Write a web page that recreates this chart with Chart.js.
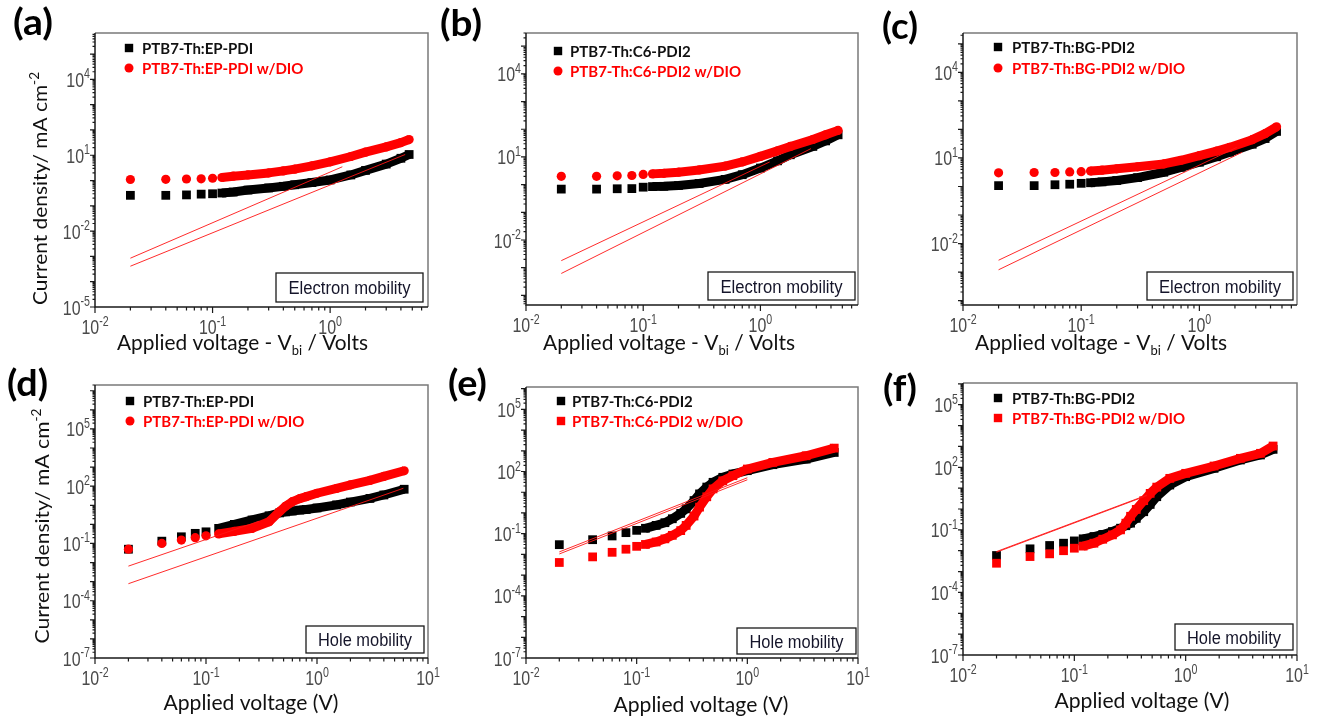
<!DOCTYPE html>
<html>
<head>
<meta charset="utf-8">
<title>SCLC J-V curves</title>
<script src="https://cdn.jsdelivr.net/npm/chart.js@4.4.1/dist/chart.umd.min.js"></script>
<style>
  html, body { margin: 0; padding: 0; background: #fff; }
  #figure { position: relative; width: 1323px; height: 722px; overflow: hidden; background: #fff; }
  #figure canvas { position: absolute; }
</style>
</head>
<body>
<div id="figure">
  <canvas id="panelA"></canvas>
  <canvas id="panelB"></canvas>
  <canvas id="panelC"></canvas>
  <canvas id="panelD"></canvas>
  <canvas id="panelE"></canvas>
  <canvas id="panelF"></canvas>
</div>
<script>
// ---- electron-only devices (V - Vbi in volts, J in mA cm^-2) ----
const voltA = [0.02, 0.04, 0.06, 0.08, 0.10, 0.12, 0.15, 0.2, 0.3, 0.4, 0.5, 0.7, 1.0, 1.5, 2.0, 3.0, 4.0, 4.7];
const jEpPdiE = [0.26, 0.26, 0.27, 0.29, 0.30, 0.32, 0.35, 0.42, 0.51, 0.59, 0.68, 0.83, 1.05, 1.66, 2.51, 4.47, 7.59, 10.7];
const jEpPdiDioE = [1.10, 1.12, 1.15, 1.17, 1.23, 1.32, 1.48, 1.66, 2.0, 2.4, 2.82, 3.8, 5.5, 8.9, 13.2, 21.4, 31.6, 41.7];
const fitVoltA = [[0.02, 1.27], [0.02, 4.35]];
const fitJA = [[8.5e-4, 3.5], [4.1e-4, 10.7]];

const voltB = [0.02, 0.04, 0.06, 0.08, 0.10, 0.12, 0.15, 0.2, 0.3, 0.5, 0.7, 1.0, 1.4, 1.8, 2.8, 3.6, 4.6];
const jC6E = [0.69, 0.69, 0.71, 0.72, 0.81, 0.85, 0.87, 0.93, 1.10, 1.55, 2.29, 3.98, 7.24, 12.0, 24.0, 38.0, 63.1];
const jC6DioE = [2.0, 2.0, 2.09, 2.14, 2.34, 2.45, 2.57, 2.82, 3.39, 4.68, 6.6, 10.5, 16.6, 24.0, 42.7, 63.1, 91.2];
const fitVoltB = [[0.02, 1.2], [0.02, 2.7]];
const fitJB = [[1.8e-3, 6.6], [6.2e-4, 20]];

const voltC = [0.02, 0.04, 0.06, 0.08, 0.10, 0.12, 0.15, 0.2, 0.3, 0.5, 0.7, 1.0, 1.4, 1.8, 2.8, 3.6, 4.5];
const jBgE = [1.07, 1.07, 1.15, 1.20, 1.29, 1.35, 1.45, 1.62, 2.04, 3.16, 4.68, 7.08, 11.0, 15.8, 30.2, 47.9, 85.1];
const jBgDioE = [3.02, 3.09, 3.09, 3.24, 3.31, 3.47, 3.72, 4.17, 4.9, 6.17, 8.3, 12.0, 17.4, 23.4, 43.7, 70.8, 123];
const fitVoltC = [[0.02, 2.07], [0.02, 2.3]];
const fitJC = [[2.6e-3, 23.4], [1.2e-3, 15.8]];

// ---- hole-only devices (V in volts) ----
const voltD = [0.02, 0.04, 0.06, 0.08, 0.10, 0.13, 0.18, 0.26, 0.37, 0.46, 0.52, 0.6, 0.7, 0.8, 1.0, 1.5, 2.0, 3.0, 4.0, 6.1];
const jEpPdiH = [0.050, 0.132, 0.224, 0.339, 0.407, 0.617, 1.0, 1.70, 2.82, 3.98, 4.5, 5.01, 5.6, 6.03, 7.24, 10.5, 14.8, 22.9, 34.7, 69.2];
const jEpPdiDioH = [0.050, 0.10, 0.151, 0.20, 0.251, 0.316, 0.427, 0.617, 1.38, 4.68, 8.9, 15.5, 22.4, 28.2, 42.7, 75.9, 117, 200, 324, 646];
const fitVoltD = [[0.02, 0.3], [0.02, 6.0]];
const fitJD = [[6.5e-3, 1.46], [7.8e-4, 77.6]];

const voltE = [0.02, 0.04, 0.06, 0.08, 0.10, 0.12, 0.15, 0.18, 0.21, 0.25, 0.28, 0.33, 0.37, 0.43, 0.49, 0.6, 0.74, 1.0, 1.7, 3.4, 6.1];
const jC6H = [0.0295, 0.0513, 0.0776, 0.112, 0.145, 0.182, 0.251, 0.339, 0.525, 0.955, 1.58, 3.98, 8.32, 17.8, 30.2, 52.5, 75.9, 110, 214, 398, 832];
const jC6DioH = [0.00407, 0.00759, 0.0126, 0.0178, 0.0245, 0.0302, 0.0398, 0.0562, 0.0832, 0.141, 0.251, 0.708, 1.91, 6.03, 14.5, 35.5, 63.1, 132, 275, 575, 1349];
const fitVoltE = [[0.02, 1.0], [0.02, 1.0]];
const fitJE = [[0.0132, 50], [0.0105, 40]];

const voltF = [0.02, 0.04, 0.06, 0.08, 0.10, 0.12, 0.15, 0.18, 0.22, 0.26, 0.29, 0.32, 0.36, 0.42, 0.48, 0.55, 0.72, 1.0, 1.8, 3.1, 4.7, 6.1];
const jBgH = [0.00589, 0.0123, 0.0178, 0.0229, 0.0295, 0.0372, 0.0479, 0.0603, 0.0832, 0.120, 0.158, 0.209, 0.355, 0.741, 1.66, 3.89, 14.1, 35.5, 89.1, 224, 389, 724];
const jBgDioH = [0.00251, 0.00525, 0.00708, 0.01, 0.0132, 0.0166, 0.0229, 0.0355, 0.0575, 0.1, 0.209, 0.447, 0.955, 2.51, 5.62, 11.2, 29.5, 51.3, 115, 269, 468, 1047];
const fitVoltF = [[0.02, 0.45], [0.02, 0.45]];
const fitJF = [[0.0091, 4.68], [0.0085, 4.4]];

// legend names
const namesEp = ['PTB7-Th:EP-PDI', 'PTB7-Th:EP-PDI w/DIO'];
const namesC6 = ['PTB7-Th:C6-PDI2', 'PTB7-Th:C6-PDI2 w/DIO'];
const namesBg = ['PTB7-Th:BG-PDI2', 'PTB7-Th:BG-PDI2 w/DIO'];

const LATO = 'Lato, "Open Sans", sans-serif';
const ARIAL = '"Liberation Sans", Arial, sans-serif';
const RED = '#ff0000';
const BLACK = '#000000';
const DISCRETE = 5; // first points are drawn as separate markers

// layout of each panel (page coordinates)
const panels = [
  { id: 'panelA', left: 0, top: 0, w: 445, h: 360, area: [95, 33, 428, 307],
    xMax: 6.8, yMin: 1e-5, yMax: 6.8e5, xLabels: [-2, -1, 0], yLabels: [-5, -2, 1, 4],
    volt: voltA, ref: jEpPdiE, dio: jEpPdiDioE, fitV: fitVoltA, fitJ: fitJA, names: namesEp, dioStyle: 'circle',
    tag: '(a)', tagPos: [13, 34, 40], legend: [129, 142, 48, 68],
    box: 'Electron mobility', boxRect: [276, 273, 423, 302], boxTextW: 122,
    xTitle: 'bias', xTitlePos: [242.5, 350, 251], yTitlePos: [47, 188.5, 233] },
  { id: 'panelB', left: 436, top: 0, w: 449, h: 360, area: [526, 33, 858, 305],
    xMax: 6.8, yMin: 4.5e-5, yMax: 3.0e5, xLabels: [-2, -1, 0], yLabels: [-2, 1, 4],
    volt: voltB, ref: jC6E, dio: jC6DioE, fitV: fitVoltB, fitJ: fitJB, names: namesC6, dioStyle: 'circle',
    tag: '(b)', tagPos: [440, 35, 42], legend: [558, 570, 51, 71],
    box: 'Electron mobility', boxRect: [708, 272, 855, 300], boxTextW: 122,
    xTitle: 'bias', xTitlePos: [669, 350, 252] },
  { id: 'panelC', left: 876, top: 0, w: 447, h: 360, area: [963, 33, 1297, 305],
    xMax: 6.7, yMin: 7.4e-5, yMax: 2.4e5, xLabels: [-2, -1, 0], yLabels: [-2, 1, 4],
    volt: voltC, ref: jBgE, dio: jBgDioE, fitV: fitVoltC, fitJ: fitJC, names: namesBg, dioStyle: 'circle',
    tag: '(c)', tagPos: [882, 38, 36], legend: [998, 1012, 47, 68],
    box: 'Electron mobility', boxRect: [1147, 272, 1293, 300], boxTextW: 122,
    xTitle: 'bias', xTitlePos: [1101, 350, 252] },
  { id: 'panelD', left: 0, top: 360, w: 445, h: 362, area: [95, 385, 428, 658],
    xMax: 10, yMin: 1e-7, yMax: 2e7, xLabels: [-2, -1, 0, 1], yLabels: [-7, -4, -1, 2, 5],
    volt: voltD, ref: jEpPdiH, dio: jEpPdiDioH, fitV: fitVoltD, fitJ: fitJD, names: namesEp, dioStyle: 'circle',
    tag: '(d)', tagPos: [7, 395, 41], legend: [130, 143, 401, 421],
    box: 'Hole mobility', boxRect: [306, 626, 424, 653], boxTextW: 94,
    xTitle: 'plain', xTitlePos: [251, 710, 175], yTitlePos: [49, 526, 235] },
  { id: 'panelE', left: 436, top: 360, w: 449, h: 362, area: [526, 387, 858, 658],
    xMax: 10, yMin: 1e-7, yMax: 1.2e6, xLabels: [-2, -1, 0, 1], yLabels: [-7, -4, -1, 2, 5],
    volt: voltE, ref: jC6H, dio: jC6DioH, fitV: fitVoltE, fitJ: fitJE, names: namesC6, dioStyle: 'rect',
    tag: '(e)', tagPos: [448, 395, 39], legend: [561, 572, 401, 421],
    box: 'Hole mobility', boxRect: [737, 628, 856, 654], boxTextW: 94,
    xTitle: 'plain', xTitlePos: [701, 712, 175] },
  { id: 'panelF', left: 876, top: 360, w: 447, h: 362, area: [963, 383, 1297, 655],
    xMax: 10, yMin: 1e-7, yMax: 1.1e6, xLabels: [-2, -1, 0, 1], yLabels: [-7, -4, -1, 2, 5],
    volt: voltF, ref: jBgH, dio: jBgDioH, fitV: fitVoltF, fitJ: fitJF, names: namesBg, dioStyle: 'rect',
    tag: '(f)', tagPos: [883, 400, 34], legend: [998, 1012, 398, 418],
    box: 'Hole mobility', boxRect: [1175, 624, 1293, 650], boxTextW: 94,
    xTitle: 'plain', xTitlePos: [1142, 708, 175] }
];

// draws a run of text pieces [text, size, dy] from one baseline, optionally squeezed to a width
function drawRich(ctx, parts, x, y, opt) {
  const weight = opt.weight || 'normal';
  let total = 0;
  const widths = parts.map(([t, size]) => {
    ctx.font = `${weight} ${size}px ${opt.family}`;
    const w = ctx.measureText(t).width;
    total += w;
    return w;
  });
  const sx = opt.width ? opt.width / total : (opt.scaleX || 1);
  const drawn = total * sx;
  let left = x;
  if (opt.align === 'center') left = x - drawn / 2;
  else if (opt.align === 'right') left = x - drawn;

  ctx.save();
  ctx.translate(left, y);
  ctx.scale(sx, 1);
  ctx.fillStyle = opt.color || '#000';
  ctx.textAlign = 'left';
  ctx.textBaseline = 'alphabetic';
  let cur = 0;
  parts.forEach(([t, size, dy], i) => {
    ctx.font = `${weight} ${size}px ${opt.family}`;
    ctx.fillText(t, cur, dy || 0);
    cur += widths[i];
  });
  ctx.restore();
}

function powerLabel(exp) {
  return [['10', 21, 0], [exp < 0 ? '-' + (-exp) : String(exp), 14, -8.5]];
}

function drawMarker(ctx, style, color, x, y) {
  ctx.fillStyle = color;
  if (style === 'circle') {
    ctx.beginPath();
    ctx.arc(x, y, 4.5, 0, Math.PI * 2);
    ctx.fill();
  } else {
    ctx.fillRect(x - 4.2, y - 4.2, 8.4, 8.4);
  }
}

// frame, log ticks, labels, legend and annotation for one panel
function makeDecor(p) {
  return {
    id: 'panelDecor',
    afterDraw(chart) {
      const ctx = chart.ctx;
      const a = chart.chartArea;
      const xs = chart.scales.x;
      const ys = chart.scales.y;

      ctx.save();
      // box
      ctx.lineWidth = 1.5;
      ctx.strokeStyle = '#7a7a7a';
      ctx.beginPath();
      ctx.moveTo(a.left, a.top); ctx.lineTo(a.right, a.top); ctx.lineTo(a.right, a.bottom);
      ctx.stroke();
      ctx.strokeStyle = '#1a1a1a';
      ctx.beginPath();
      ctx.moveTo(a.left, a.top); ctx.lineTo(a.left, a.bottom); ctx.lineTo(a.right, a.bottom);
      ctx.stroke();

      // decade and minor ticks
      ctx.lineWidth = 1.2;
      ctx.beginPath();
      for (let e = -3; e <= 1; e++) {
        for (let m = 1; m <= 9; m++) {
          const v = m * Math.pow(10, e);
          if (v < xs.min * 0.999 || v > xs.max * 1.001) continue;
          const px = xs.getPixelForValue(v);
          ctx.moveTo(px, a.bottom);
          ctx.lineTo(px, a.bottom + (m === 1 ? 6 : 3.5));
        }
      }
      for (let e = -8; e <= 8; e++) {
        for (let m = 1; m <= 9; m++) {
          const v = m * Math.pow(10, e);
          if (v < ys.min * 0.999 || v > ys.max * 1.001) continue;
          const py = ys.getPixelForValue(v);
          ctx.moveTo(a.left, py);
          ctx.lineTo(a.left - (m === 1 ? 5 : 2.5), py);
        }
      }
      ctx.stroke();

      // tick labels
      p.xLabels.forEach(e => {
        drawRich(ctx, powerLabel(e), xs.getPixelForValue(Math.pow(10, e)), a.bottom + 27,
          { family: ARIAL, align: 'center', scaleX: 0.76, color: '#4a4a4a' });
      });
      p.yLabels.forEach(e => {
        drawRich(ctx, powerLabel(e), a.left - 5, ys.getPixelForValue(Math.pow(10, e)) + 7.5,
          { family: ARIAL, align: 'right', scaleX: 0.76, color: '#4a4a4a' });
      });

      // everything below is placed in page coordinates
      ctx.translate(-p.left, -p.top);

      // axis titles
      const [tx, ty, tw] = p.xTitlePos;
      const xParts = p.xTitle === 'bias'
        ? [['Applied voltage - V', 21, 0], ['bi', 13, 5], [' / Volts', 21, 0]]
        : [['Applied voltage (V)', 21, 0]];
      drawRich(ctx, xParts, tx, ty, { family: LATO, align: 'center', width: tw, color: '#111' });

      if (p.yTitlePos) {
        const [yx, yy, yw] = p.yTitlePos;
        ctx.save();
        ctx.translate(yx, yy);
        ctx.rotate(-Math.PI / 2);
        drawRich(ctx, [['Current density/ mA cm', 20, 0], ['-2', 13, -8]], 0, 0,
          { family: LATO, align: 'center', width: yw, color: '#111' });
        ctx.restore();
      }

      // legend
      const [mx, lx, r1, r2] = p.legend;
      drawMarker(ctx, 'rect', BLACK, mx, r1);
      drawMarker(ctx, p.dioStyle, RED, mx, r2);
      drawRich(ctx, [[p.names[0], 15, 0]], lx, r1 + 5.5, { family: LATO, weight: 'bold', color: '#111' });
      drawRich(ctx, [[p.names[1], 15, 0]], lx, r2 + 5.5, { family: LATO, weight: 'bold', color: RED });

      // mobility annotation
      const [bx0, by0, bx1, by1] = p.boxRect;
      ctx.fillStyle = '#fff';
      ctx.fillRect(bx0, by0, bx1 - bx0, by1 - by0);
      ctx.lineWidth = 1.3;
      ctx.strokeStyle = '#1a1a1a';
      ctx.strokeRect(bx0, by0, bx1 - bx0, by1 - by0);
      drawRich(ctx, [[p.box, 18, 0]], (bx0 + bx1) / 2, (by0 + by1) / 2 + 6.5,
        { family: ARIAL, align: 'center', width: p.boxTextW, color: '#15152a' });

      // panel tag
      const [gx, gy, gw] = p.tagPos;
      drawRich(ctx, [[p.tag, 36, 0]], gx, gy + 1, { family: LATO, weight: 'bold', width: gw, color: '#000' });

      ctx.restore();
    }
  };
}

function measuredSeries(volts, values, color, style, order) {
  return {
    data: volts.map((v, i) => ({ x: v, y: values[i] })),
    borderColor: color,
    backgroundColor: color,
    borderWidth: 9,
    borderJoinStyle: 'round',
    pointStyle: style,
    pointRadius: style === 'circle' ? 4.6 : 6.2,
    pointBorderWidth: 0,
    pointHoverRadius: 0,
    segment: {
      borderColor: ctx => ctx.p0DataIndex < DISCRETE ? 'rgba(0,0,0,0)' : color
    },
    order: order
  };
}

function fitLine(volts, values) {
  return {
    data: volts.map((v, i) => ({ x: v, y: values[i] })),
    borderColor: 'rgba(255,20,20,0.9)',
    borderWidth: 1,
    pointRadius: 0,
    order: 0
  };
}

panels.forEach(p => {
  const canvas = document.getElementById(p.id);
  canvas.width = p.w;
  canvas.height = p.h;
  canvas.style.left = p.left + 'px';
  canvas.style.top = p.top + 'px';

  const [l, t, r, b] = p.area;
  const datasets = [
    measuredSeries(p.volt, p.ref, BLACK, 'rect', 2),
    measuredSeries(p.volt, p.dio, RED, p.dioStyle, 1),
    fitLine(p.fitV[0], p.fitJ[0]),
    fitLine(p.fitV[1], p.fitJ[1])
  ];

  new Chart(canvas, {
    type: 'line',
    data: { datasets },
    options: {
      responsive: false,
      animation: false,
      events: [],
      layout: {
        padding: { left: l - p.left, top: t - p.top, right: p.left + p.w - r, bottom: p.top + p.h - b }
      },
      plugins: { legend: { display: false }, tooltip: { enabled: false } },
      scales: {
        x: { type: 'logarithmic', min: 0.01, max: p.xMax, display: false },
        y: { type: 'logarithmic', min: p.yMin, max: p.yMax, display: false }
      }
    },
    plugins: [makeDecor(p)]
  });
});
</script>
</body>
</html>
